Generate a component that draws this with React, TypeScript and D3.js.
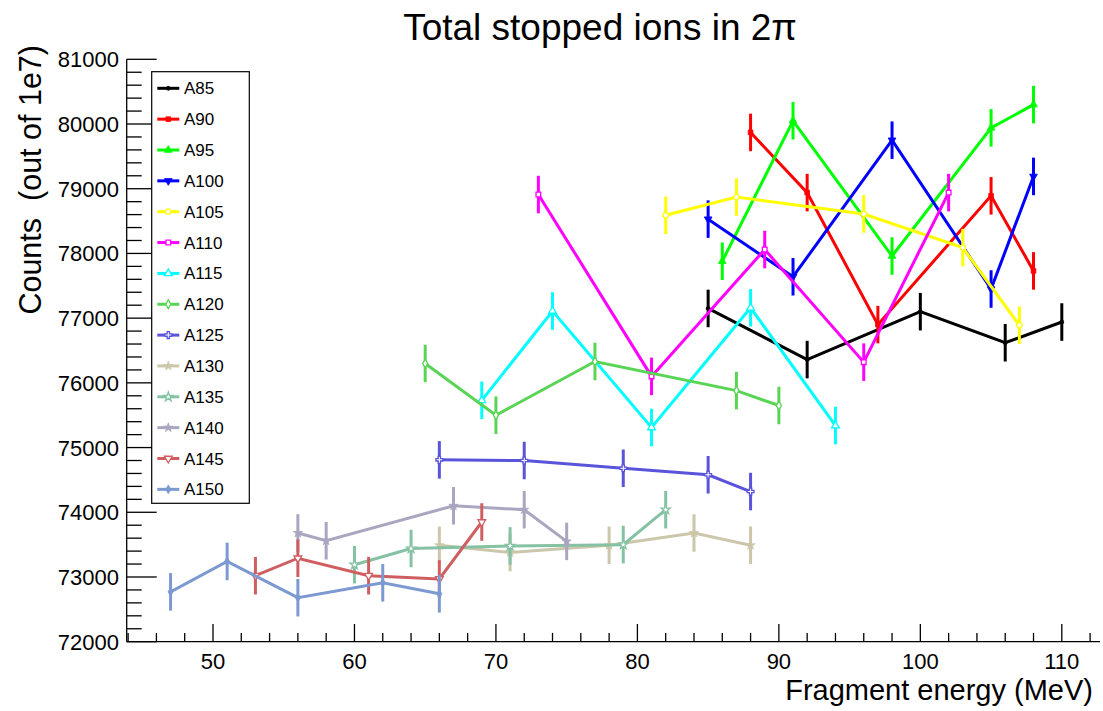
import React from "react";
import * as d3 from "d3";

const TITLE = "Total stopped ions in 2π";
const X_TITLE = "Fragment energy (MeV)";
const Y_TITLE = "Counts  (out of 1e7)";

const xMajorTicks = [50, 60, 70, 80, 90, 100, 110];
const yMajorTicks = [72000, 73000, 74000, 75000, 76000, 77000, 78000, 79000, 80000, 81000];

const seriesNames = ["A85", "A90", "A95", "A100", "A105", "A110", "A115", "A120", "A125", "A130", "A135", "A140", "A145", "A150"];

const A85_energy = [85, 92, 100, 106, 110];
const A85_counts = [77150, 76360, 77100, 76620, 76940];
const A90_energy = [88, 92, 97, 105, 108];
const A90_counts = [79870, 78940, 76900, 78890, 77730];
const A95_energy = [86, 91, 98, 105, 108];
const A95_counts = [77880, 80050, 77960, 79940, 80300];
const A100_energy = [85, 91, 98, 105, 108];
const A100_counts = [78530, 77640, 79750, 77450, 79190];
const A105_energy = [82, 87, 96, 103, 107];
const A105_counts = [78590, 78870, 78610, 78090, 76890];
const A110_energy = [73, 81, 89, 96, 102];
const A110_counts = [78910, 76100, 78060, 76320, 78940];
const A115_energy = [69, 74, 81, 88, 94];
const A115_counts = [75730, 77110, 75310, 77160, 75340];
const A120_energy = [65, 70, 77, 87, 90];
const A120_counts = [76300, 75500, 76330, 75880, 75650];
const A125_energy = [66, 72, 79, 85, 88];
const A125_counts = [74810, 74800, 74680, 74580, 74320];
const A130_energy = [66, 71, 78, 84, 88];
const A130_counts = [73490, 73380, 73490, 73680, 73490];
const A135_energy = [60, 64, 71, 79, 82];
const A135_counts = [73190, 73440, 73480, 73500, 74040];
const A140_energy = [56, 58, 67, 72, 75];
const A140_counts = [73680, 73560, 74100, 74040, 73550];
const A145_energy = [53, 56, 61, 66, 69];
const A145_counts = [73020, 73290, 73020, 72970, 73850];
const A150_energy = [47, 51, 56, 62, 66];
const A150_counts = [72770, 73240, 72680, 72910, 72740];

// half-length of the vertical error bars, in counts
const countError = 290;

const energies = [A85_energy, A90_energy, A95_energy, A100_energy, A105_energy, A110_energy, A115_energy, A120_energy, A125_energy, A130_energy, A135_energy, A140_energy, A145_energy, A150_energy];
const counts = [A85_counts, A90_counts, A95_counts, A100_counts, A105_counts, A110_counts, A115_counts, A120_counts, A125_counts, A130_counts, A135_counts, A140_counts, A145_counts, A150_counts];

const seriesColors = ["#000000", "#ff0000", "#00ff00", "#0000ff", "#ffff00", "#ff00ff", "#00ffff", "#59d454", "#5954d9", "#ccc6aa", "#85c2a3", "#aba6bf", "#cf5e61", "#7d99d1"];
const seriesMarkers = ["fcircle", "fsquare", "ftri", "ftridown", "ocircle", "osquare", "otri", "odiamond", "ocross", "fstar", "ostar", "fstar", "otridown", "fdiamond"];

const W = 1103;
const H = 711;
const FONT = "'Liberation Sans', Arial, Helvetica, sans-serif";

function Marker({ kind, x, y, color }: { kind: string; x: number; y: number; color: string }) {
  const filled = kind.startsWith("f");
  const shape = kind.slice(1);
  let type: any = d3.symbolCircle;
  let size = 22;
  let rotate = 0;
  if (shape === "circle") { type = d3.symbolCircle; size = filled ? 12 : 24; }
  if (shape === "square") { type = d3.symbolSquare; size = 22; }
  if (shape === "tri") { type = d3.symbolTriangle; size = 26; }
  if (shape === "tridown") { type = d3.symbolTriangle; size = 26; rotate = 180; }
  if (shape === "diamond") { type = d3.symbolDiamond; size = 22; }
  if (shape === "cross") { type = d3.symbolCross; size = 26; }
  if (shape === "star") { type = d3.symbolStar; size = 26; }
  const p = d3.symbol().type(type).size(size)() as string;
  return (
    <path
      d={p}
      transform={`translate(${x},${y}) rotate(${rotate})`}
      fill={filled ? color : "#ffffff"}
      stroke={color}
      strokeWidth={filled ? 0.8 : 1.3}
    />
  );
}

export default function App() {
  const x = d3.scaleLinear().domain([43.9, 112.7]).range([126.7, 1100]);
  const y = d3.scaleLinear().domain([72000, 81000]).range([641.7, 59.3]);
  const [x0, x1] = x.range();
  const [yb, yt] = y.range();

  const xMinor = d3.range(44, 113, 2);
  const yMinor = d3.range(72000, 81001, 200);

  const line = d3.line<[number, number]>().x((d) => x(d[0])).y((d) => y(d[1]));

  const legend = { left: 151.7, top: 71.7, right: 249.3, bottom: 503.3, first: 88.3, step: 30.85 };

  return (
    <svg width={W} height={H} style={{ position: "absolute", left: 0, top: 0, background: "#fff" }} fontFamily={FONT}>
      <rect x={0} y={0} width={W} height={H} fill="#ffffff" />
      <text x={600} y={40} fontSize={37} textAnchor="middle" fill="#000">{TITLE}</text>

      {/* series */}
      {seriesNames.map((name, si) => {
        const pts: [number, number][] = energies[si].map((e, i) => [e, counts[si][i]]);
        const color = seriesColors[si];
        return (
          <g key={name}>
            <path d={line(pts) as string} fill="none" stroke={color} strokeWidth={3} strokeLinejoin="miter" />
            {pts.map((p, i) => (
              <line key={i} x1={x(p[0])} x2={x(p[0])} y1={y(p[1] - countError)} y2={y(p[1] + countError)} stroke={color} strokeWidth={3} />
            ))}
            {pts.map((p, i) => (
              <Marker key={"m" + i} kind={seriesMarkers[si]} x={x(p[0])} y={y(p[1])} color={color} />
            ))}
          </g>
        );
      })}

      {/* axes */}
      <g stroke="#000" strokeWidth={1.3} fill="none">
        <line x1={x0} x2={x1} y1={yb} y2={yb} />
        <line x1={x0} x2={x0} y1={yb} y2={yt} />
        {xMinor.map((v) => (
          <line key={"xm" + v} x1={x(v)} x2={x(v)} y1={yb} y2={yb - (v % 10 === 0 ? 17.7 : 8.8)} />
        ))}
        {yMinor.map((v) => (
          <line key={"ym" + v} x1={x0} x2={x0 + (v % 1000 === 0 ? 30 : 15)} y1={y(v)} y2={y(v)} />
        ))}
      </g>
      <g fontSize={22} fill="#000">
        {xMajorTicks.map((v) => (
          <text key={"xt" + v} x={x(v)} y={669} textAnchor="middle">{v}</text>
        ))}
        {yMajorTicks.map((v) => (
          <text key={"yt" + v} x={119} y={y(v) + 8} textAnchor="end">{v}</text>
        ))}
      </g>
      <text x={1093} y={700} fontSize={29} textAnchor="end" fill="#000">{X_TITLE}</text>
      <text transform={`translate(41,45) rotate(-90)`} fontSize={30.5} textAnchor="end" fill="#000" xmlSpace="preserve" style={{ whiteSpace: "pre" }}>{Y_TITLE}</text>

      {/* legend */}
      <rect x={legend.left} y={legend.top} width={legend.right - legend.left} height={legend.bottom - legend.top} fill="#ffffff" stroke="#000" strokeWidth={1.2} />
      {seriesNames.map((name, si) => {
        const ly = legend.first + si * legend.step;
        const color = seriesColors[si];
        return (
          <g key={"lg" + name}>
            <line x1={157.3} x2={179.3} y1={ly} y2={ly} stroke={color} strokeWidth={3} />
            <Marker kind={seriesMarkers[si]} x={168.3} y={ly} color={color} />
            <text x={184} y={ly + 6} fontSize={17} fill="#000">{name}</text>
          </g>
        );
      })}
    </svg>
  );
}
